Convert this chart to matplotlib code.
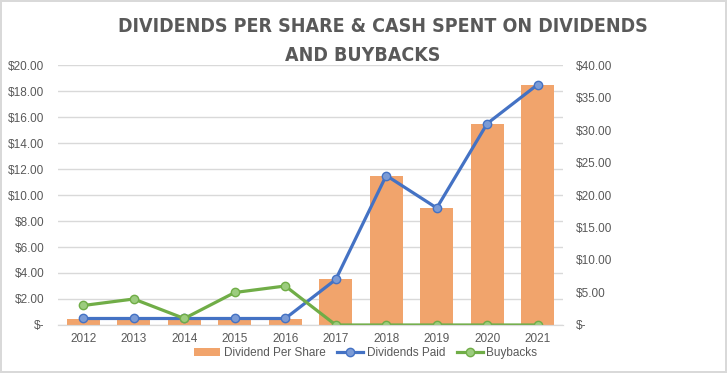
import matplotlib.pyplot as plt
import numpy as np
from matplotlib.ticker import FuncFormatter

years = ["2012", "2013", "2014", "2015", "2016", "2017", "2018", "2019", "2020", "2021"]
dividend_per_share = [0.46, 0.38, 0.38, 0.38, 0.46, 3.5, 11.5, 9.0, 15.5, 18.5]
dividends_paid = [1.0, 1.0, 1.0, 1.0, 1.0, 7.0, 23.0, 18.0, 31.0, 37.0]
buybacks = [3.0, 4.0, 1.0, 5.0, 6.0, 0, 0, 0, 0, 0]

txt = "#595959"
plt.rcParams["font.family"] = ["Liberation Sans", "DejaVu Sans"]


def money(v, pos):
    if abs(v) < 1e-9:
        return "$-"
    return "${:,.2f}".format(v)


fig = plt.figure(figsize=(7.27, 3.73), dpi=100, edgecolor="#d9d9d9", linewidth=1.5)
ax = fig.add_axes([0.0798, 0.1287, 0.6946, 0.697])
ax2 = ax.twinx()

x = np.arange(len(years))
bars = ax.bar(x, dividend_per_share, width=0.66, color="#f1a46c", zorder=2,
              label="Dividend Per Share")

l1, = ax2.plot(x, dividends_paid, color="#4472c4", lw=2.3, marker="o", ms=6,
               mfc="#7b9bd6", mec="#4472c4", mew=1, label="Dividends Paid")
l2, = ax2.plot(x, buybacks, color="#70ad47", lw=2.3, marker="o", ms=6,
               mfc="#9ccc7e", mec="#70ad47", mew=1, label="Buybacks")

ax.set_xlim(-0.5, 9.5)
ax.set_ylim(0, 20)
ax2.set_ylim(0, 40)
ax.set_yticks(np.arange(0, 21, 2))
ax2.set_yticks(np.arange(0, 41, 5))
ax.yaxis.set_major_formatter(FuncFormatter(money))
ax2.yaxis.set_major_formatter(FuncFormatter(money))
ax.set_xticks(x)
ax.set_xticklabels(years)

ax.grid(axis="y", color="#d9d9d9", lw=1, zorder=0)
ax.set_axisbelow(True)
for a in (ax, ax2):
    for s in ("top", "left", "right"):
        a.spines[s].set_visible(False)
    a.spines["bottom"].set_color("#d9d9d9")
    a.tick_params(length=0, labelsize=8.5, colors=txt)
ax.tick_params(axis="y", pad=10)
ax2.tick_params(axis="y", pad=9)
ax.tick_params(axis="x", pad=6)

# condensed bold, close to the narrow title font of the original
title_kw = dict(ha="center", va="center", fontsize=14, fontweight="bold", color=txt,
                family="DejaVu Sans", fontstretch="condensed")
fig.text(0.527, 0.929, "DIVIDENDS PER SHARE & CASH SPENT ON DIVIDENDS", **title_kw)
fig.text(0.4986, 0.850, "AND BUYBACKS", **title_kw)

leg = fig.legend(handles=[bars, l1, l2], loc="center", bbox_to_anchor=(0.503, 0.053), ncol=3,
                 frameon=False, fontsize=8.5, handlelength=2.2, columnspacing=1.0,
                 handletextpad=0.3)
for t in leg.get_texts():
    t.set_color(txt)

fig.savefig("out.png", dpi=100)
